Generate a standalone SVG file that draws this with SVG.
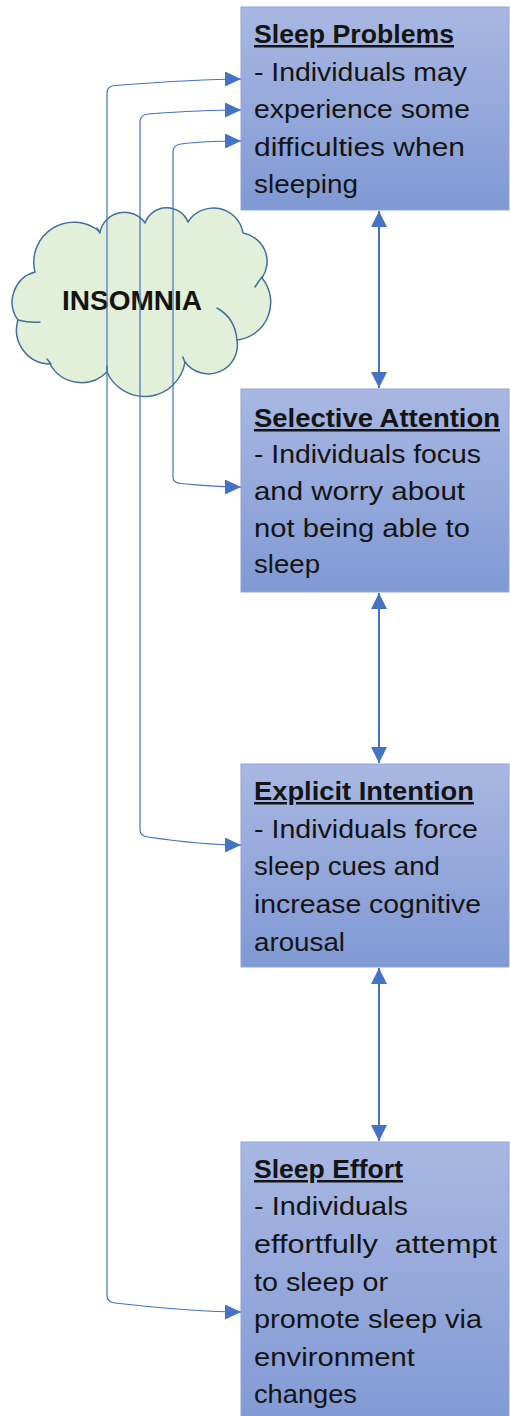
<svg xmlns="http://www.w3.org/2000/svg" width="510" height="1416" viewBox="0 0 510 1416">
  <defs>
    <linearGradient id="boxFill" x1="0" y1="0" x2="0" y2="1">
      <stop offset="0" stop-color="#a9b8e2"/>
      <stop offset="1" stop-color="#8099d4"/>
    </linearGradient>
    <marker id="arrowSide" viewBox="0 0 16 15" refX="16" refY="7.5" markerWidth="16" markerHeight="15" markerUnits="userSpaceOnUse" orient="auto-start-reverse">
      <path d="M0,0 L16,7.5 L0,15 Z" fill="#4472c4"/>
    </marker>
    <marker id="arrowMain" viewBox="0 0 16 16" refX="16" refY="8" markerWidth="16" markerHeight="16" markerUnits="userSpaceOnUse" orient="auto-start-reverse">
      <path d="M0,0 L16,8 L0,16 Z" fill="#4472c4"/>
    </marker>
  </defs>
  <style>
    .box { fill: url(#boxFill); stroke: #8ea3da; stroke-width: 1; }
    .txt { font-family: "Liberation Sans", Arial, sans-serif; font-size: 25px; fill: #141414; }
    .ttl { font-weight: bold; text-decoration: underline; }
    .cloud { fill: #e2efd9; stroke: #41719c; stroke-width: 1.5; stroke-linejoin: round; }
    .tick { fill: none; stroke: #41719c; stroke-width: 1.5; stroke-linecap: round; }
    .cloudTxt { font-family: "Liberation Sans", Arial, sans-serif; font-size: 28px; font-weight: bold; fill: #141414; }
    .side { fill: none; stroke: #4472c4; stroke-width: 1.2; marker-start: url(#arrowSide); marker-end: url(#arrowSide); }
    .main { fill: none; stroke: #4472c4; stroke-width: 2; marker-start: url(#arrowMain); marker-end: url(#arrowMain); }
  </style>

  <rect width="510" height="1416" fill="#ffffff"/>

  <!-- Cloud node -->
  <g id="insomnia">
    <path class="cloud" d="M 18 320 A 31 31 0 0 1 35 272 A 40 40 0 0 1 100 232 A 25 25 0 0 1 145 223 A 23 23 0 0 1 188 222 A 30 30 0 0 1 243 233 A 29 29 0 0 1 262 278 A 38 38 0 0 1 237 340 A 29 29 0 0 1 185 362 A 41 41 0 0 1 107 372 A 36 36 0 0 1 50 364 A 34 34 0 0 1 18 320 Z"/>
    <path class="tick" d="M 18 320 Q 30 323 40 322 M 97 228 L 100 233 M 255 287 Q 258 282 262 277 M 237 340 Q 235 318 217 308 M 183 357 L 185 363 M 107 366 L 107 372 M 47 359 L 51 364"/>
    <text class="cloudTxt" x="132" y="310" text-anchor="middle">INSOMNIA</text>
  </g>

  <!-- Stage boxes -->
  <g id="sleep-problems">
    <rect class="box" x="241" y="7" width="268" height="203"/>
    <text class="txt ttl" x="254" y="43" textLength="200" lengthAdjust="spacingAndGlyphs">Sleep Problems</text>
    <text class="txt" x="254" y="81" textLength="213" lengthAdjust="spacingAndGlyphs">- Individuals may</text>
    <text class="txt" x="254" y="118" textLength="216" lengthAdjust="spacingAndGlyphs">experience some</text>
    <text class="txt" x="254" y="156" textLength="211" lengthAdjust="spacingAndGlyphs">difficulties when</text>
    <text class="txt" x="254" y="193" textLength="104" lengthAdjust="spacingAndGlyphs">sleeping</text>
  </g>

  <g id="selective-attention">
    <rect class="box" x="241" y="389" width="268" height="203"/>
    <text class="txt ttl" x="254" y="427" textLength="246" lengthAdjust="spacingAndGlyphs">Selective Attention</text>
    <text class="txt" x="254" y="463" textLength="227" lengthAdjust="spacingAndGlyphs">- Individuals focus</text>
    <text class="txt" x="254" y="500" textLength="211" lengthAdjust="spacingAndGlyphs">and worry about</text>
    <text class="txt" x="254" y="537" textLength="216" lengthAdjust="spacingAndGlyphs">not being able to</text>
    <text class="txt" x="254" y="573" textLength="66" lengthAdjust="spacingAndGlyphs">sleep</text>
  </g>

  <g id="explicit-intention">
    <rect class="box" x="241" y="764" width="268" height="203"/>
    <text class="txt ttl" x="254" y="800" textLength="220" lengthAdjust="spacingAndGlyphs">Explicit Intention</text>
    <text class="txt" x="254" y="838" textLength="224" lengthAdjust="spacingAndGlyphs">- Individuals force</text>
    <text class="txt" x="254" y="875" textLength="186" lengthAdjust="spacingAndGlyphs">sleep cues and</text>
    <text class="txt" x="254" y="913" textLength="227" lengthAdjust="spacingAndGlyphs">increase cognitive</text>
    <text class="txt" x="254" y="951" textLength="91" lengthAdjust="spacingAndGlyphs">arousal</text>
  </g>

  <g id="sleep-effort">
    <rect class="box" x="241" y="1142" width="268" height="290"/>
    <text class="txt ttl" x="254" y="1178" textLength="149" lengthAdjust="spacingAndGlyphs">Sleep Effort</text>
    <text class="txt" x="254" y="1215" textLength="154" lengthAdjust="spacingAndGlyphs">- Individuals</text>
    <text class="txt" x="254" y="1253" textLength="243" lengthAdjust="spacingAndGlyphs">effortfully&#160; attempt</text>
    <text class="txt" x="254" y="1291" textLength="134" lengthAdjust="spacingAndGlyphs">to sleep or</text>
    <text class="txt" x="254" y="1328" textLength="228" lengthAdjust="spacingAndGlyphs">promote sleep via</text>
    <text class="txt" x="254" y="1366" textLength="161" lengthAdjust="spacingAndGlyphs">environment</text>
    <text class="txt" x="254" y="1403" textLength="103" lengthAdjust="spacingAndGlyphs">changes</text>
  </g>

  <!-- Connectors -->
  <g id="connectors">
    <!-- loops on the left linking the first stage with each later stage -->
    <path class="side" d="M 241 79 C 200 79 160 82 115 85.5 Q 107 86 107 93 L 107 1296 Q 107 1302 115 1303 C 160 1308 200 1312 241 1312"/>
    <path class="side" d="M 241 110 C 205 110 175 112 148 114 Q 140 115 140 122 L 140 830 Q 140 836 148 837 C 175 841 205 845 241 845"/>
    <path class="side" d="M 241 141 C 210 141 195 142 181 144 Q 173 145 173 152 L 173 477 Q 173 483 181 483.5 C 200 485 215 487 241 487"/>
    <!-- two-way links between consecutive stages -->
    <path class="main" d="M 379 211 L 379 388"/>
    <path class="main" d="M 379 593 L 379 763"/>
    <path class="main" d="M 379 968 L 379 1141"/>
  </g>
</svg>
